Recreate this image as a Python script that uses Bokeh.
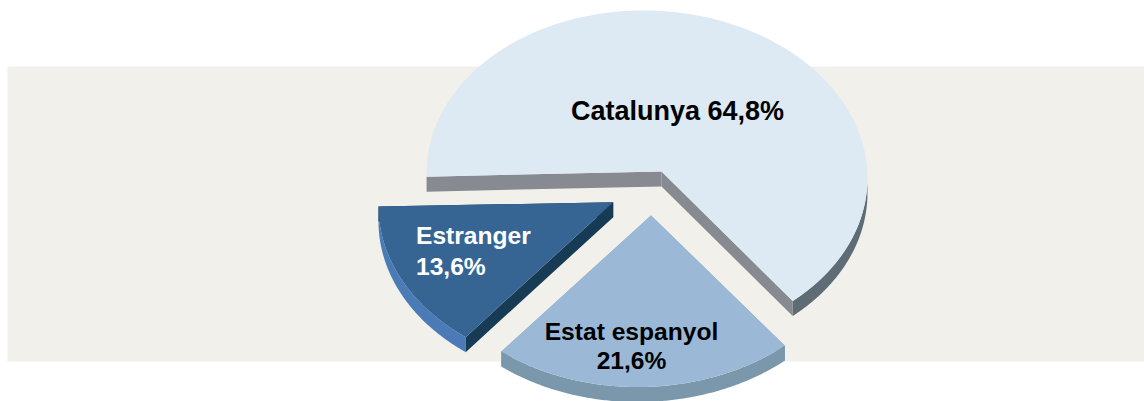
import numpy as np
from bokeh.plotting import figure
from bokeh.models import Range1d
from bokeh.core.properties import value
from bokeh.embed import file_html
from bokeh.resources import INLINE

# ---- data ----
slices = ["Catalunya", "Estat espanyol", "Estranger"]
shares = [64.8, 21.6, 13.6]
share_labels = ["64,8%", "21,6%", "13,6%"]

# ---- layout (pixels of the picture) ----
W, H = 1144, 401
band = (7, 1144, 66, 361)
radii = [(220.5, 165.0), (220.5, 164.0), (220.5, 164.0)]
depth = 15.0
centers = [(646.5, 175.0), (640.0, 222.5), (598.5, 206.0)]
apexes = [(661.0, 171.0), (650.5, 215.0), (612.7, 201.7)]
start_deg = [-182.4, 50.0, 127.2]
tilt_deg = [1.5, -1.2, 0.0]
# the tilted view stretches or squeezes each slice's sweep
view_factor = [0.9855, 1.029, 1.078]

top_col = ["#DDE9F3", "#9BB9D7", "#366594"]
rim_col = ["#5F6C76", "#7A97AB", "#4A7BB6"]
cut_col = ["#878A91", "#7A97AB", "#173A55"]
txt_col = ["#000000", "#000000", "#FFFFFF"]

p = figure(width=W, height=H, output_backend="svg", toolbar_location=None,
           x_range=Range1d(0, W), y_range=Range1d(H, 0),
           min_border=0, outline_line_color=None, background_fill_color="#FFFFFF",
           border_fill_color="#FFFFFF")
p.axis.visible = False
p.grid.visible = False

p.quad(left=[band[0]], right=[band[1]], top=[band[2]], bottom=[band[3]],
       fill_color="#F1F0EB", line_color=None)


def arc(i, a0, a1, n=160):
    t = np.radians(np.linspace(a0, a1, n))
    rx, ry = radii[i]
    dx, dy = rx * np.cos(t), ry * np.sin(t)
    phi = np.radians(tilt_deg[i])
    return (centers[i][0] + dx * np.cos(phi) - dy * np.sin(phi),
            centers[i][1] + dx * np.sin(phi) + dy * np.cos(phi))


for i in range(len(shares)):
    a0 = start_deg[i]
    a1 = a0 + shares[i] * 3.6 * view_factor[i]
    ap = apexes[i]
    ax_, ay_ = arc(i, a0, a1)

    # outer rim: only the part of the arc facing the viewer
    lo, hi = max(a0, 0.0), min(a1, 180.0)
    if hi > lo:
        rx_, ry_ = arc(i, lo, hi)
        p.patch(np.r_[rx_, rx_[::-1]], np.r_[ry_, ry_[::-1] + depth],
                fill_color=rim_col[i], line_color=None)

    # the two cut faces
    for ex, ey in ((ax_[0], ay_[0]), (ax_[-1], ay_[-1])):
        p.patch([ap[0], ex, ex, ap[0]], [ap[1], ey, ey + depth, ap[1] + depth],
                fill_color=cut_col[i], line_color=None)

    # top face
    p.patch(np.r_[ap[0], ax_], np.r_[ap[1], ay_], fill_color=top_col[i], line_color=None)

font = value("Liberation Sans")
p.text(x=[677], y=[110.5], text=[f"{slices[0]} {share_labels[0]}"], text_color=txt_col[0],
       text_font=font, text_font_style="bold", text_font_size="27px",
       text_align="center", text_baseline="middle")
p.text(x=[631, 631], y=[330.5, 359.5], text=[slices[1], share_labels[1]], text_color=txt_col[1],
       text_font=font, text_font_style="bold", text_font_size="24.6px",
       text_align="center", text_baseline="middle")
p.text(x=[415.5, 415.5], y=[234.5, 265.5], text=[slices[2], share_labels[2]], text_color=txt_col[2],
       text_font=font, text_font_style="bold", text_font_size="24.6px",
       text_align="left", text_baseline="middle")

open("out.html", "w").write(file_html(p, INLINE))
